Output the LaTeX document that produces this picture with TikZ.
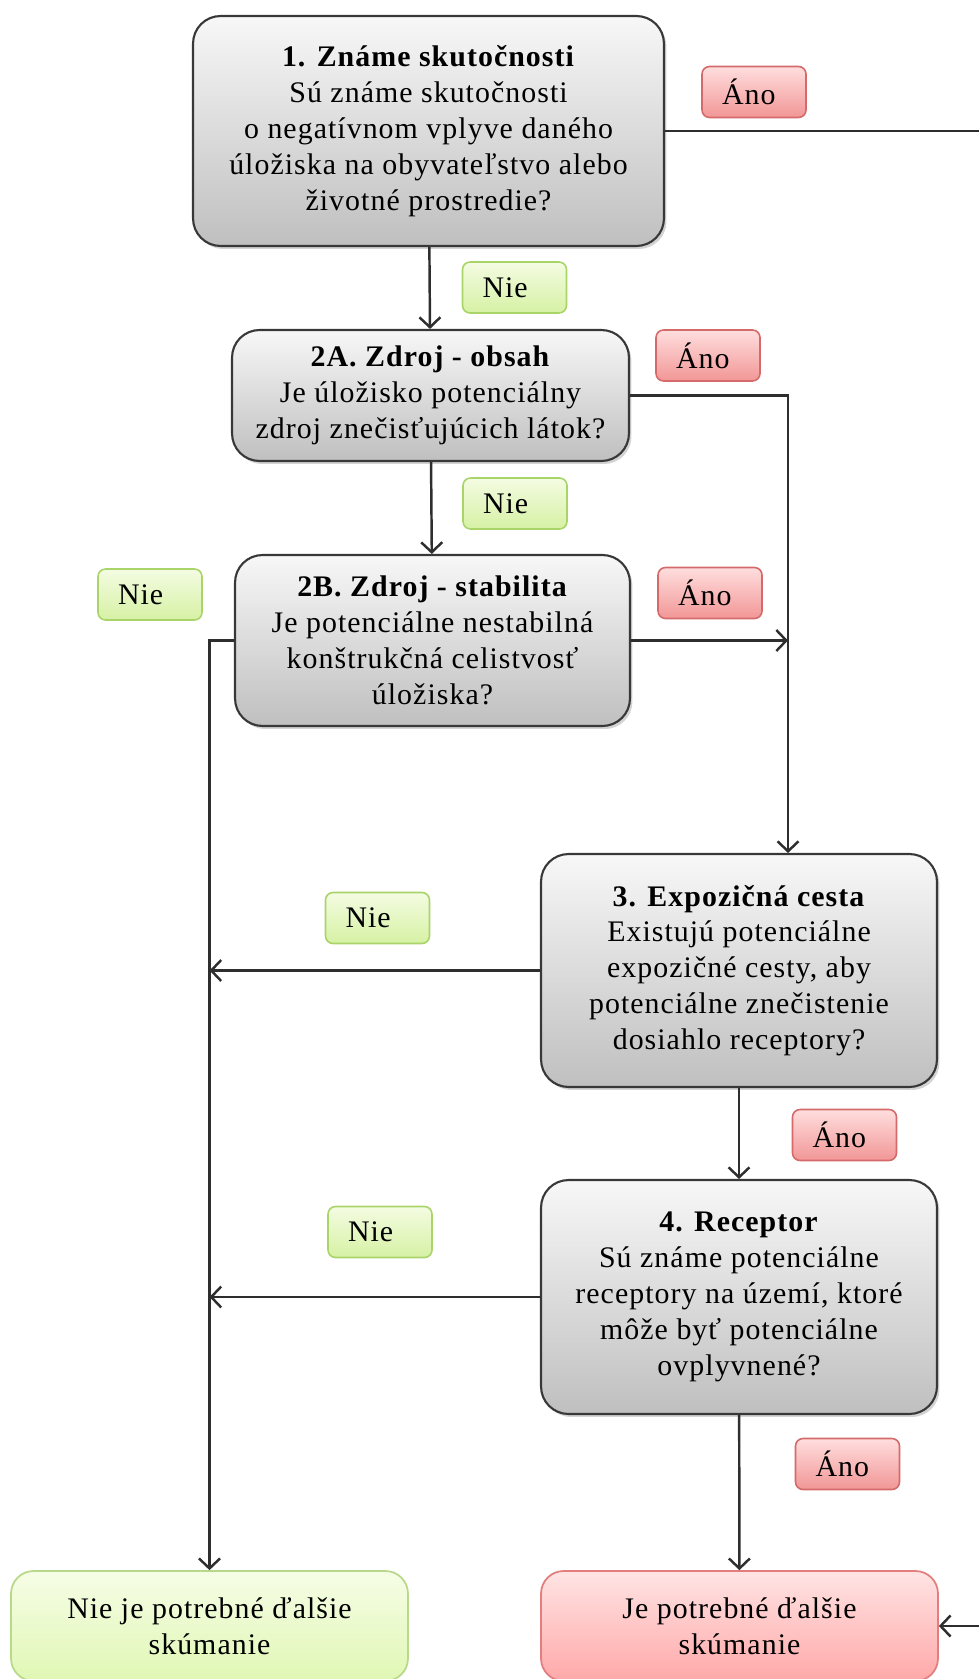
\documentclass[tikz,border=0pt]{standalone}
\usepackage{fontspec}
\setmainfont{Liberation Serif}[LetterSpace=3.5]
\usetikzlibrary{arrows.meta,shadows}

\definecolor{ciara}{HTML}{2E2E2E}
\definecolor{okraj}{HTML}{383838}
\definecolor{zelokraj}{HTML}{A9D46A}
\definecolor{cerokraj}{HTML}{D46A6A}

\begin{document}
\begin{tikzpicture}[x=0.02cm,y=-0.02cm,
  otazka/.style={draw=okraj,line width=1.2pt,rounded corners=0.55cm,top color=gray!6,bottom color=gray!50,
    align=center,font=\fontsize{17}{20.4}\selectfont,
    drop shadow={shadow xshift=0.05cm,shadow yshift=-0.06cm,opacity=0.35}},
  nie/.style={draw=zelokraj,line width=0.9pt,rounded corners=0.15cm,top color={rgb,255:red,244;green,252;blue,226},
    bottom color={rgb,255:red,214;green,241;blue,164},minimum width=2.08cm,minimum height=1.02cm,
    text width=1.28cm,inner xsep=0.4cm,align=left,font=\fontsize{17}{20.4}\selectfont},
  ano/.style={nie,draw=cerokraj,top color={rgb,255:red,255;green,222;blue,222},
    bottom color={rgb,255:red,242;green,150;blue,150}},
  koniec/.style={line width=1pt,rounded corners=0.45cm,minimum width=7.94cm,minimum height=2.2cm,
    align=center,font=\fontsize{17}{20.4}\selectfont},
  arr/.style={draw=ciara,line width=1.4pt,-{Straight Barb[length=0.2cm,width=0.42cm]}}]
\useasboundingbox (0,0) rectangle (978,1679);

\node[otazka,minimum width=9.42cm,minimum height=4.6cm] (b1) at (428.5,131)
  {\textbf{1. Známe skutočnosti}\\Sú známe skutočnosti\\o negatívnom vplyve daného\\úložiska na obyvateľstvo alebo\\životné prostredie?};
\node[otazka,minimum width=7.94cm,minimum height=2.62cm] (b2a) at (430.5,395.5)
  {\textbf{2A. Zdroj - obsah}\\Je úložisko potenciálny\\zdroj znečisťujúcich látok?};
\node[otazka,minimum width=7.9cm,minimum height=3.42cm] (b2b) at (432.5,640.5)
  {\textbf{2B. Zdroj - stabilita}\\Je potenciálne nestabilná\\konštrukčná celistvosť\\úložiska?};
\node[otazka,minimum width=7.92cm,minimum height=4.66cm] (b3) at (739,970.5)
  {\textbf{3. Expozičná cesta}\\Existujú potenciálne\\expozičné cesty, aby\\potenciálne znečistenie\\dosiahlo receptory?};
\node[otazka,minimum width=7.92cm,minimum height=4.68cm] (b4) at (739,1297)
  {\textbf{4. Receptor}\\Sú známe potenciálne\\receptory na území, ktoré\\môže byť potenciálne\\ovplyvnené?};

\node[koniec,draw={rgb,255:red,184;green,216;blue,138},top color={rgb,255:red,246;green,253;blue,230},
  bottom color={rgb,255:red,224;green,247;blue,180}] (endno) at (209.5,1626)
  {Nie je potrebné ďalšie\\skúmanie};
\node[koniec,draw={rgb,255:red,226;green,126;blue,126},top color={rgb,255:red,255;green,228;blue,228},
  bottom color={rgb,255:red,255;green,168;blue,168}] (endyes) at (739.5,1626)
  {Je potrebné ďalšie\\skúmanie};

\node[ano] (ano1) at (754,92) {Áno};
\node[nie] (nie1) at (514.5,287.5) {Nie};
\node[ano] (ano2a) at (708,355.5) {Áno};
\node[nie] (nie2a) at (515,503.5) {Nie};
\node[ano] (ano2b) at (710,593) {Áno};
\node[nie] (nie2b) at (150,594.5) {Nie};
\node[nie] (nie3) at (377.5,918) {Nie};
\node[ano] (ano3) at (844.5,1135) {Áno};
\node[nie] (nie4) at (380,1232) {Nie};
\node[ano] (ano4) at (847.5,1464) {Áno};

\coordinate (rail) at (788,0);
\coordinate (far) at (1010,0);

\draw[arr] (b1) -- (b2a);
\draw[arr] (b2a) -- (b2b);
\draw[arr] (b3) -- (b4);
\draw[arr] (b4) -- (endyes);
\draw[arr] (b2a.east) -| (b3.north -| rail);
\draw[arr] (b2b.east) -- (b2b.east -| rail);
\draw[arr] (b2b.west) -| (endno.north);
\draw[arr] (b3.west) -- (b3.west -| endno.north);
\draw[arr] (b4.west) -- (b4.west -| endno.north);
\draw[arr] (b1.east) -- (b1.east -| far) -- (endyes.east -| far) -- (endyes.east);
\end{tikzpicture}
\end{document}
